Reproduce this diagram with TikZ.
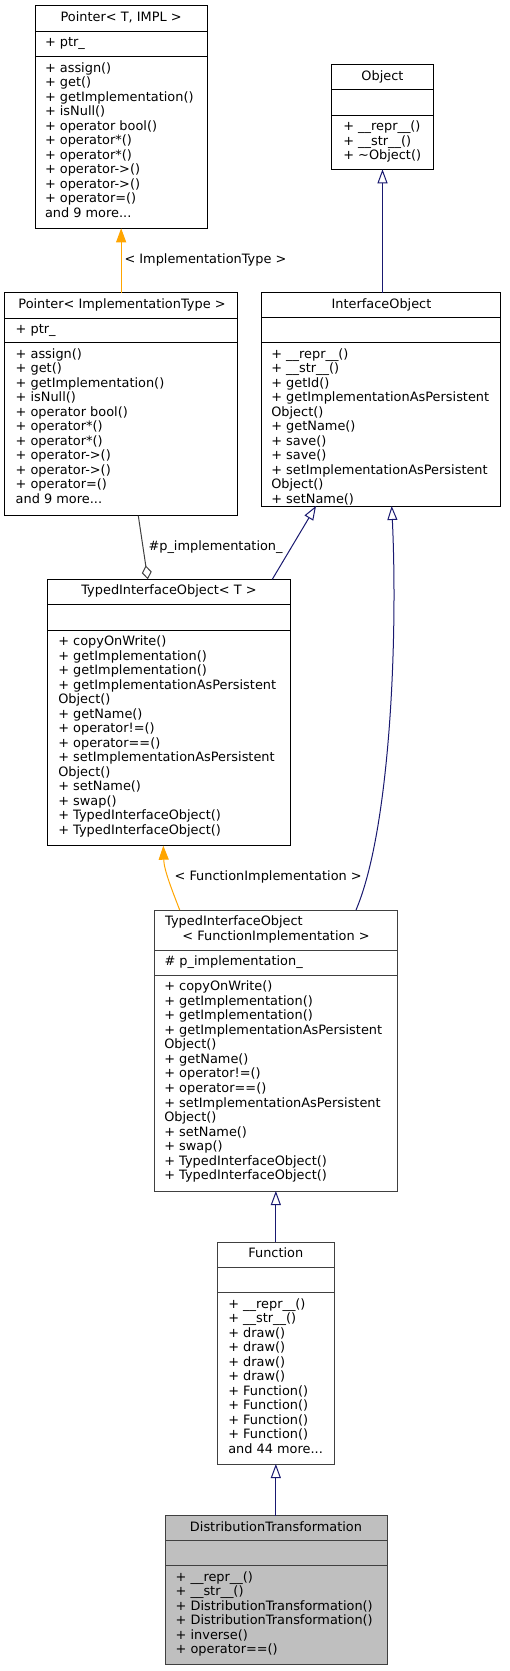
\documentclass[tikz,border=0pt]{standalone}
\usepackage{fontspec}
\setmainfont{DejaVu Sans}
\usetikzlibrary{arrows.meta,calc}
\definecolor{navy}{HTML}{191970}
\definecolor{orng}{HTML}{FFA500}
\definecolor{gr25}{HTML}{404040}
\definecolor{gr75}{HTML}{BFBFBF}
\newcommand\mdots{...}
\newcommand\umlclass[9]{%
  \node[classbox, draw=#8, fill=#9, minimum width={(#4-#2)*1pt}, minimum height={(#7-#3)*1pt}] (#1) at (#2,#3) {};
  \draw[#8, line width=1pt] (#2,#5) -- (#4,#5) (#2,#6) -- (#4,#6);}
\newcommand\mlines[3]{%
  \foreach \t [count=\i from 0] in {#3} {\node[txt] at (#1,{#2+\i*14.53}) {\t};}}
\begin{document}
\begin{tikzpicture}[x=1pt,y=-1pt,
  classbox/.style={line width=1pt, inner sep=0pt, outer sep=0pt, anchor=north west},
  txt/.style={inner sep=0pt, anchor=base west, font=\fontsize{12.9}{14.53}\selectfont},
  ttl/.style={inner sep=0pt, anchor=base, font=\fontsize{12.9}{14.53}\selectfont},
  elabel/.style={inner sep=0pt, anchor=base west, font=\fontsize{12.9}{14.53}\selectfont},
  inh/.style={draw=navy, line width=1pt, -{Triangle[length=14pt,width=10pt,fill=white]}},
  tmpl/.style={draw=orng, line width=1pt, -{Triangle[length=14pt,width=10pt]}},
  agg/.style={draw=gr25, line width=1pt, -{Diamond[length=14pt,width=10pt,fill=white]}}
]
\useasboundingbox[fill=white] (0,0) rectangle (509,1671);

% Pointer< T, IMPL >
\umlclass{po}{35}{5.7}{207.3}{31}{56.7}{228.3}{black}{white}
\node[ttl] (pot) at (121.15,21.2) {Pointer< T, IMPL >};
\mlines{44.8}{46.5}{+ ptr\_}
\mlines{44.8}{72.2}{+ assign(),+ get(),+ getImplementation(),+ isNull(),+ operator bool(),+ operator*(),+ operator*(),+ operator->(),+ operator->(),+ operator=(),and 9 more\mdots}

% Object
\umlclass{ob}{331.7}{64.7}{433.3}{89.3}{115}{169.3}{black}{white}
\node[ttl] (obt) at (382.5,80.2) {Object};
\mlines{343.1}{130.5}{+ \_\_repr\_\_(),+ \_\_str\_\_(),+ \textasciitilde Object()}

% Pointer< ImplementationType >
\umlclass{pi}{4.7}{292.7}{237.3}{318.3}{342.7}{515.7}{black}{white}
\node[ttl] (pit) at (122,308.2) {Pointer< ImplementationType >};
\mlines{15.5}{333.8}{+ ptr\_}
\mlines{15.5}{358.2}{+ assign(),+ get(),+ getImplementation(),+ isNull(),+ operator bool(),+ operator*(),+ operator*(),+ operator->(),+ operator->(),+ operator=(),and 9 more\mdots}

% InterfaceObject
\umlclass{io}{261}{292.7}{500}{317.3}{342.7}{506}{black}{white}
\node[ttl] (iot) at (381.5,308.2) {InterfaceObject};
\mlines{271.1}{358.2}{+ \_\_repr\_\_(),+ \_\_str\_\_(),+ getId(),+ getImplementationAsPersistent,Object(),+ getName(),+ save(),+ save(),+ setImplementationAsPersistent,Object(),+ setName()}

% TypedInterfaceObject< T >
\umlclass{tt}{47.3}{579.3}{290.7}{604.7}{630}{845.7}{black}{white}
\node[ttl] (ttt) at (169,594.8) {TypedInterfaceObject< T >};
\mlines{58.1}{645.5}{+ copyOnWrite(),+ getImplementation(),+ getImplementation(),+ getImplementationAsPersistent,Object(),+ getName(),+ operator!=(),+ operator==(),+ setImplementationAsPersistent,Object(),+ setName(),+ swap(),+ TypedInterfaceObject(),+ TypedInterfaceObject()}

% TypedInterfaceObject< FunctionImplementation >
\umlclass{tf}{154.7}{910}{397.3}{950}{975.3}{1191}{gr25}{white}
\node[txt] (tft1) at (165,925.5) {TypedInterfaceObject};
\node[ttl] (tft2) at (276,940) {< FunctionImplementation >};
\node[txt] (tfa) at (164.3,965.5) {\# p\_implementation\_};
\mlines{164.1}{990.8}{+ copyOnWrite(),+ getImplementation(),+ getImplementation(),+ getImplementationAsPersistent,Object(),+ getName(),+ operator!=(),+ operator==(),+ setImplementationAsPersistent,Object(),+ setName(),+ swap(),+ TypedInterfaceObject(),+ TypedInterfaceObject()}

% Function
\umlclass{fn}{217.7}{1242}{334}{1267.3}{1292.7}{1464}{gr25}{white}
\node[ttl] (fnt) at (275.85,1257.5) {Function};
\mlines{228.1}{1308.2}{+ \_\_repr\_\_(),+ \_\_str\_\_(),+ draw(),+ draw(),+ draw(),+ draw(),+ Function(),+ Function(),+ Function(),+ Function(),and 44 more\mdots}

% DistributionTransformation
\umlclass{dt}{165}{1515.7}{387}{1540.3}{1565.7}{1664.7}{gr25}{gr75}
\node[ttl] (dtt) at (276,1531.2) {DistributionTransformation};
\mlines{175.5}{1581.2}{+ \_\_repr\_\_(),+ \_\_str\_\_(),+ DistributionTransformation(),+ DistributionTransformation(),+ inverse(),+ operator==()}

% connectors
\draw[tmpl] (po.south |- pi.north) -- (po.south);
\node[elabel] (l1) at (124.3,263.5) {< ImplementationType >};
\draw[inh] (ob.south |- io.north) -- (ob.south);
\draw[agg] ($(pi.south west)+(133.6,0)$) -- ($(tt.north west)+(100.5,0)$);
\node[elabel] (l2) at (148.3,550) {\#p\_implementation\_};
\draw[inh] ($(tt.north west)+(225,0)$) -- ($(io.south west)+(55,0)$);
\draw[tmpl] ($(tf.north west)+(25,0)$) .. controls (172,890) and (164,870) .. ($(tt.south west)+(116,0)$);
\node[elabel] (l3) at (174.4,880) {< FunctionImplementation >};
\draw[inh] ($(tf.north west)+(201.3,0)$) .. controls (390,830) and (398,640) .. ($(io.south west)+(130.7,0)$);
\draw[inh] (fn.north) -- (fn.north |- tf.south);
\draw[inh] (fn.south |- dt.north) -- (fn.south);
\end{tikzpicture}
\end{document}
